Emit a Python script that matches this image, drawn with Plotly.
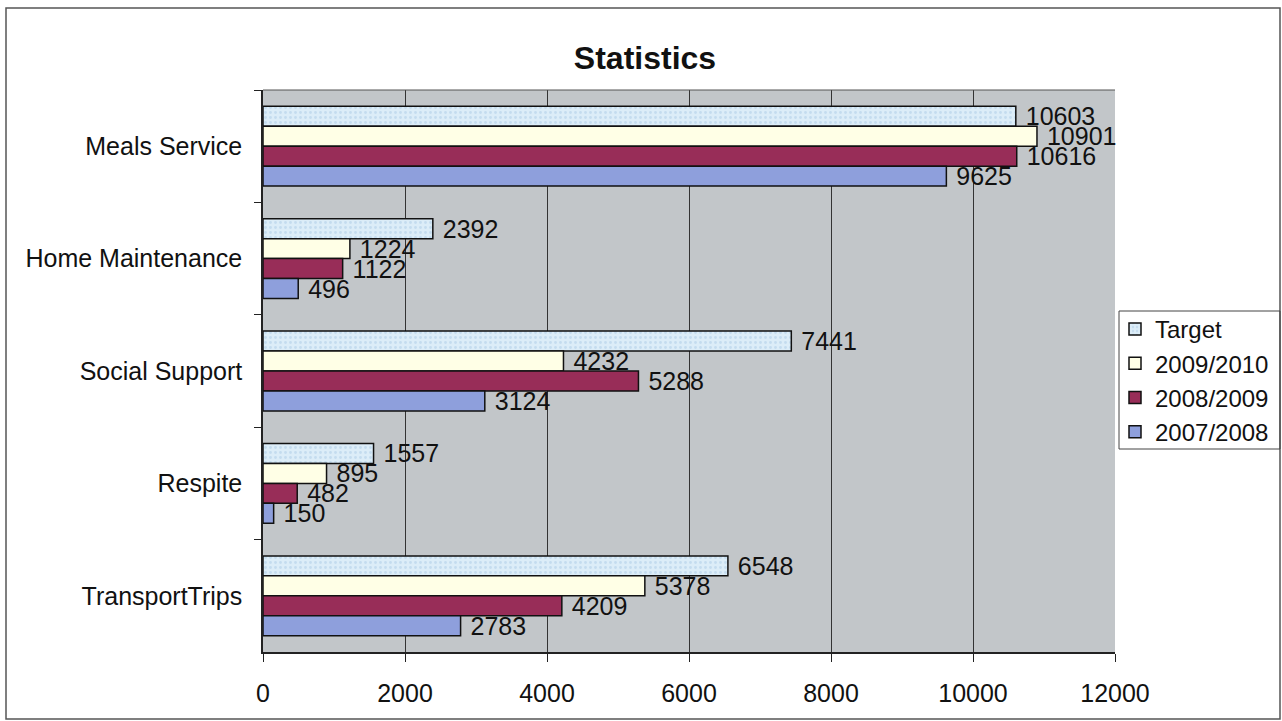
import plotly.graph_objects as go

categories = ["Meals Service", "Home Maintenance", "Social Support", "Respite", "TransportTrips"]
series_names = ["Target", "2009/2010", "2008/2009", "2007/2008"]
target = [10603, 2392, 7441, 1557, 6548]
y2009_2010 = [10901, 1224, 4232, 895, 5378]
y2008_2009 = [10616, 1122, 5288, 482, 4209]
y2007_2008 = [9625, 496, 3124, 150, 2783]
x_ticks = [0, 2000, 4000, 6000, 8000, 10000, 12000]

series_values = [target, y2009_2010, y2008_2009, y2007_2008]
colors = ["#DCEDF8", "#FFFFE6", "#982D58", "#8E9FDC"]
FONT = "Liberation Sans, Arial"

fig = go.Figure()
for name, vals, col in zip(series_names, series_values, colors):
    marker = dict(color=col, line=dict(color="#111111", width=1.5))
    if name == "Target":
        # faint speckled fill on the target bars
        marker["pattern"] = dict(shape=".", fgcolor="#C4DCEF", bgcolor=col,
                                 size=5, solidity=0.25, fillmode="replace")
    fig.add_trace(go.Bar(
        y=categories, x=vals, name=name, orientation="h",
        marker=marker,
        text=[" " + str(v) for v in vals], textposition="outside",
        constraintext="none", textangle=0,
        textfont=dict(family=FONT, size=25, color="#111111"),
        cliponaxis=False,
    ))

W, H = 1282, 721
L, R, T, B = 263, 167, 90, 69
PW, PH = W - L - R, H - T - B


def px_x(x):
    return (x - L) / PW


def px_y(y):
    return (H - B - y) / PH


fig.update_layout(
    width=W, height=H,
    margin=dict(l=L, r=R, t=T, b=B, autoexpand=False),
    barmode="group", bargap=0.29, bargroupgap=0,
    plot_bgcolor="#C2C6C9", paper_bgcolor="white",
    font=dict(family=FONT, size=25, color="#111111"),
    title=dict(text="<b>Statistics</b>", x=645 / W, xanchor="center",
               y=1 - 58 / H, yanchor="middle",
               font=dict(size=32, color="#111111")),
    legend=dict(x=px_x(1115), xanchor="left",
                y=px_y(307), yanchor="top",
                borderwidth=0, bgcolor="rgba(0,0,0,0)",
                font=dict(size=24), tracegroupgap=0, itemwidth=30),
)
fig.update_xaxes(range=[0, 12000], tickvals=x_ticks, ticktext=[str(t) for t in x_ticks],
                 showgrid=True, gridcolor="#333333", gridwidth=1,
                 showline=True, linecolor="#222222", linewidth=1.5,
                 ticks="outside", ticklen=8, tickcolor="#222222",
                 zeroline=False, tickfont=dict(size=25), ticklabelstandoff=10)
fig.update_yaxes(autorange="reversed", showline=True, linecolor="#222222", linewidth=1.5,
                 ticks="outside", tickson="boundaries", ticklen=7, tickcolor="#222222",
                 tickfont=dict(size=25), ticklabelstandoff=14)

# top edge of the plot area
fig.add_shape(type="line", xref="paper", yref="paper", x0=0, x1=1, y0=1, y1=1,
              line=dict(color="#555555", width=1))
# legend frame
fig.add_shape(type="rect", xref="paper", yref="paper",
              x0=px_x(1119), x1=px_x(1280), y0=px_y(449), y1=px_y(311),
              line=dict(color="#444444", width=1))
# outer chart border
fig.add_shape(type="rect", xref="paper", yref="paper",
              x0=px_x(6), x1=px_x(1280), y0=px_y(719), y1=px_y(8),
              line=dict(color="#555555", width=1.5), layer="below")

fig.write_html("out.html")
